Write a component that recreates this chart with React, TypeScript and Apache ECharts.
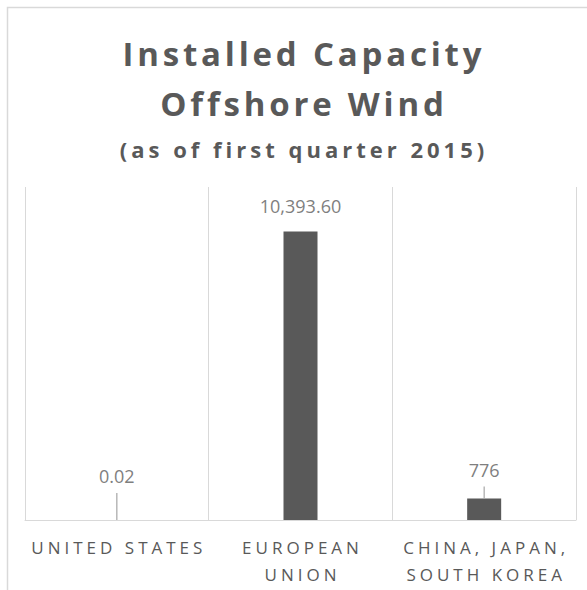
import React, { useEffect, useRef } from "react";
import * as echarts from "echarts";

// ---- data ----
const categories = ["UNITED STATES", "EUROPEAN\nUNION", "CHINA, JAPAN,\nSOUTH KOREA"];
const capacityMW = [0.02, 10393.6, 776];
const valueLabels = ["0.02", "10,393.60", "776"];
const yRange = [0, 12000];
const titleText = "Installed Capacity\nOffshore Wind";
const subtitleText = "(as of first quarter 2015)";

// ---- styles ----
const labelDistances = [35, 17, 19];
const leaderLengths = [27, 0, 12];
const FONT = "Open Sans";
const DARK = "#595959";
const GRID = "#d9d9d9";

function applyLetterSpacing(root: HTMLElement) {
  const titleLines = titleText.split("\n");
  const axisLines = categories.flatMap((c) => c.split("\n"));
  root.querySelectorAll("text").forEach((t) => {
    const s = (t.textContent || "").trim();
    let sp = 0;
    if (titleLines.includes(s)) sp = 3.8;
    else if (s === subtitleText) sp = 4;
    else if (axisLines.includes(s)) sp = 4;
    if (sp) {
      (t as SVGTextElement).style.letterSpacing = sp + "px";
      if (t.getAttribute("text-anchor") === "middle") t.setAttribute("dx", String(sp / 2));
    }
  });
}

export default function App() {
  const ref = useRef<HTMLDivElement>(null);
  useEffect(() => {
    if (!ref.current) return;
    const chart = echarts.init(ref.current, null, { renderer: "svg" });
    chart.setOption({
      animation: false,
      textStyle: { fontFamily: FONT },
      title: [
        {
          text: titleText,
          left: 302,
          top: 28,
          textAlign: "center",
          padding: 0,
          textStyle: { fontFamily: FONT, fontWeight: "bold", fontSize: 33, lineHeight: 50, color: DARK },
        },
        {
          text: subtitleText,
          left: 302,
          top: 136,
          textAlign: "center",
          padding: 0,
          textStyle: { fontFamily: FONT, fontWeight: "bold", fontSize: 22, lineHeight: 26, color: DARK },
        },
      ],
      grid: { left: 25, right: 11, top: 187, bottom: 70, containLabel: false },
      xAxis: {
        type: "category",
        data: categories,
        axisLine: { lineStyle: { color: GRID, width: 1 } },
        axisTick: { show: false },
        splitLine: { show: true, lineStyle: { color: GRID, width: 1 } },
        axisLabel: { interval: 0, color: DARK, fontSize: 17, lineHeight: 27, margin: 14, fontFamily: FONT },
      },
      yAxis: { type: "value", min: yRange[0], max: yRange[1], show: false },
      series: [
        {
          type: "bar",
          data: capacityMW.map((v, i) => ({ value: v, label: { distance: labelDistances[i] } })),
          barWidth: 34,
          itemStyle: { color: DARK },
          label: {
            show: true,
            position: "top",
            formatter: (p: any) => valueLabels[p.dataIndex],
            color: "#7f7f7f",
            fontSize: 18,
            fontFamily: FONT,
          },
        },
        {
          type: "custom",
          silent: true,
          z: 3,
          data: capacityMW.map((v, i) => [i, v]),
          renderItem: (params: any, api: any) => {
            const i = params.dataIndex;
            const len = leaderLengths[i];
            if (!len) return null;
            const p = api.coord([api.value(0), api.value(1)]);
            return {
              type: "line",
              shape: { x1: p[0], y1: p[1], x2: p[0], y2: p[1] - len },
              style: { stroke: "#a6a6a6", lineWidth: 1.2 },
            };
          },
        },
      ],
      graphic: [
        {
          type: "rect",
          silent: true,
          shape: { x: 7.5, y: 7.5, width: 700, height: 700 },
          style: { fill: "none", stroke: GRID, lineWidth: 1.5 },
        },
      ],
    });
    applyLetterSpacing(ref.current);
    return () => chart.dispose();
  }, []);
  return <div ref={ref} style={{ position: "absolute", left: 0, top: 0, width: 587, height: 590 }} />;
}
